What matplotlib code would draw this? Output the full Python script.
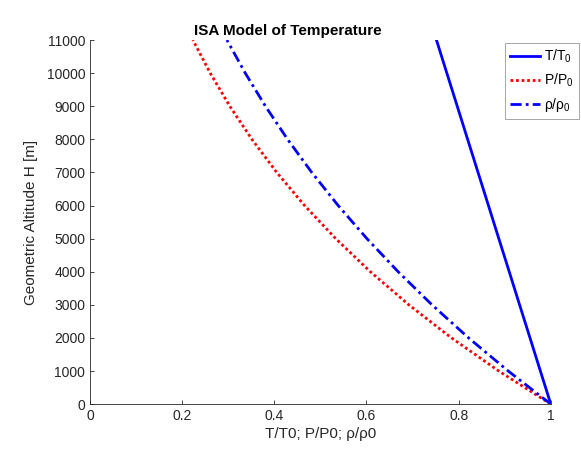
import matplotlib
matplotlib.use("Agg")
import matplotlib.pyplot as plt

# Altitude samples [m] and ratios
altitude = [0, 1000, 2000, 3000, 4000, 5000, 6000, 7000, 8000, 9000, 10000, 11000]
temp_ratio = [1.0, 0.9774, 0.9549, 0.9323, 0.9098, 0.8872, 0.8647, 0.8421,
              0.8195, 0.7970, 0.7744, 0.7519]
press_ratio = [1.0, 0.8870, 0.7845, 0.6919, 0.6084, 0.5332, 0.4656, 0.4052,
               0.3513, 0.3034, 0.2609, 0.2233]
dens_ratio = [1.0, 0.9075, 0.8216, 0.7421, 0.6687, 0.6009, 0.5385, 0.4812,
              0.4287, 0.3807, 0.3369, 0.2971]

x_ticks = [0, 0.2, 0.4, 0.6, 0.8, 1]
x_ticklabels = ["0", "0.2", "0.4", "0.6", "0.8", "1"]
y_ticks = list(range(0, 11001, 1000))

plt.rcParams.update({
    "font.family": ["Liberation Sans", "DejaVu Sans"],
    "mathtext.fontset": "custom",
    "mathtext.rm": "Liberation Sans",
    "mathtext.it": "Liberation Sans",
})

fig = plt.figure(figsize=(5.81, 4.5), dpi=100)
ax = fig.add_axes([0.155, 0.102, 0.793, 0.809])

ax.plot(temp_ratio, altitude, color="#0000ff", lw=2, ls="-", label="T/T$_0$")
ax.plot(press_ratio, altitude, color="#ff0000", lw=2, ls=(0, (1, 1)), label="P/P$_0$")
ax.plot(dens_ratio, altitude, color="#0000ff", lw=2, ls=(0, (4, 1.5, 1, 1.5)), label="ρ/ρ$_0$")

ax.set_xlim(0, 1)
ax.set_ylim(0, 11000)
ax.set_xticks(x_ticks)
ax.set_xticklabels(x_ticklabels)
ax.set_yticks(y_ticks)
ax.spines["top"].set_visible(False)
ax.spines["right"].set_visible(False)
for s in ("left", "bottom"):
    ax.spines[s].set_color("#262626")
    ax.spines[s].set_linewidth(0.6)
ax.tick_params(direction="in", length=3, width=0.6, labelsize=10, colors="#262626")

ax.set_xlabel("T/T0; P/P0; ρ/ρ0", fontsize=11, color="#262626", labelpad=3)
ax.set_ylabel("Geometric Altitude H [m]", fontsize=11, color="#262626", labelpad=6)
fig.text(0.496, 0.93, "ISA Model of Temperature", ha="center", va="center",
         fontsize=11, fontweight="bold", color="black")

leg = ax.legend(loc="upper left", bbox_to_anchor=(0.869, 0.905),
                bbox_transform=fig.transFigure, fontsize=10, frameon=True,
                fancybox=False, edgecolor="#7f7f7f", handlelength=2.2,
                handletextpad=0.3, borderpad=0.35, labelspacing=0.5,
                borderaxespad=0)
leg.get_frame().set_linewidth(0.6)

fig.savefig("out.png", dpi=100)
